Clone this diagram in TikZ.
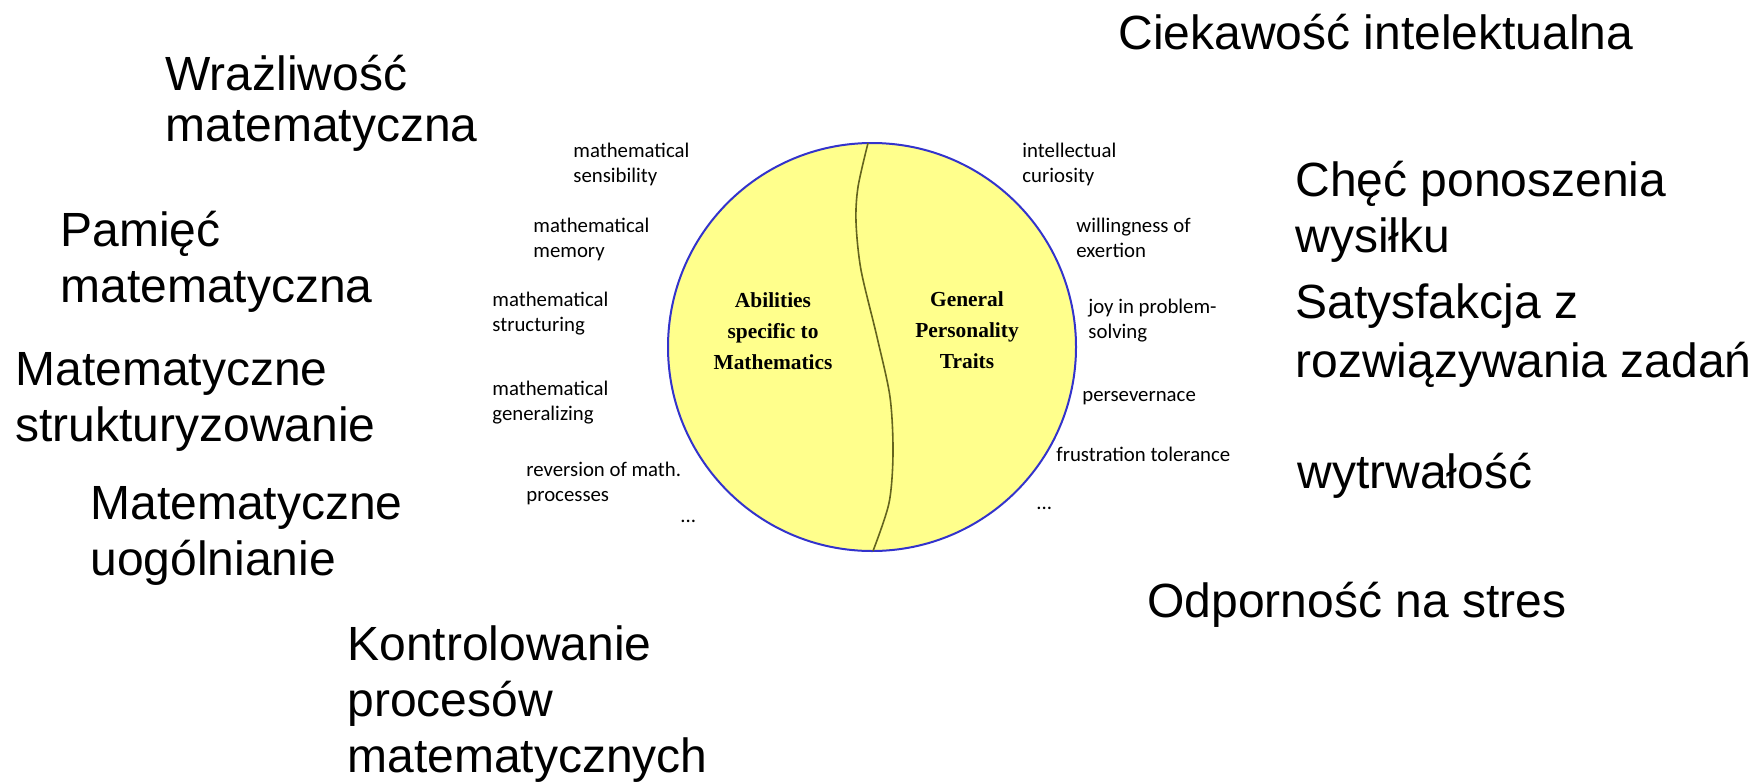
\documentclass[tikz,border=0pt]{standalone}
\usepackage{fontspec}
\setmainfont{Liberation Sans}
\newfontfamily\calibrifont{Carlito}
\newfontfamily\timesfont{Liberation Serif}

\begin{document}
\begin{tikzpicture}[x=0.5pt,y=-0.5pt,
  every node/.style={inner sep=0pt,anchor=base west,align=left},
  pl/.style={font=\fontsize{24}{28}\selectfont},
  en/.style={font=\calibrifont\fontsize{10.4}{12.5}\selectfont},
  core/.style={anchor=base,align=center,font=\timesfont\bfseries\fontsize{10.7}{15.5}\selectfont}]
\useasboundingbox (0,0) rectangle (1754,781);
\coordinate (c) at (872,347);
\draw[draw={rgb,255:red,51;green,51;blue,204},line width=1pt,fill={rgb,255:red,255;green,255;blue,140}] (c) circle (102pt);
\draw[draw={rgb,255:red,100;green,100;blue,30},line width=.8pt] plot[smooth] coordinates {(868,143) (858,187) (856,222) (861,270) (877,337) (890,397) (893,453) (889,503) (873,551)};
\node[core] (abil) at (773,369) {Abilities\\specific to\\Mathematics};
\node[core] (pers) at (967,368) {General\\Personality\\Traits};
\node[en] (sens) at (573,182) {mathematical\\sensibility};
\node[en] (mem) at (533,257) {mathematical\\memory};
\node[en] (struc) at (492,331) {mathematical\\structuring};
\node[en] (gen) at (492,420) {mathematical\\generalizing};
\node[en] (rev) at (526,501) {reversion of math.\\processes};
\node[en] (dotsl) at (680,522) {...};
\node[en] (cur) at (1022,182) {intellectual\\curiosity};
\node[en] (will) at (1076,257) {willingness of\\exertion};
\node[en] (joy) at (1088,338) {joy in problem-\\solving};
\node[en] (pers2) at (1082,401) {persevernace};
\node[en] (frus) at (1056,461) {frustration tolerance};
\node[en] (dotsr) at (1036,509) {...};
\node[pl,font=\fontsize{24}{25.5}\selectfont] (wraz) at (165,141) {Wrażliwość\\matematyczna};
\node[pl] (pam) at (60,302) {Pamięć\\matematyczna};
\node[pl] (stru) at (15,441) {Matematyczne\\strukturyzowanie};
\node[pl] (uog) at (90,575) {Matematyczne\\uogólnianie};
\node[pl] (kont) at (347,772) {Kontrolowanie\\procesów\\matematycznych};
\node[pl] (ciek) at (1118,50) {Ciekawość intelektualna};
\node[pl] (chec) at (1295,252) {Chęć ponoszenia\\wysiłku};
\node[pl,font=\fontsize{24}{29.5}\selectfont] (saty) at (1295,377) {Satysfakcja z\\rozwiązywania zadań};
\node[pl] (wytr) at (1297,488) {wytrwałość};
\node[pl] (odp) at (1147,617) {Odporność na stres};
\end{tikzpicture}
\end{document}
